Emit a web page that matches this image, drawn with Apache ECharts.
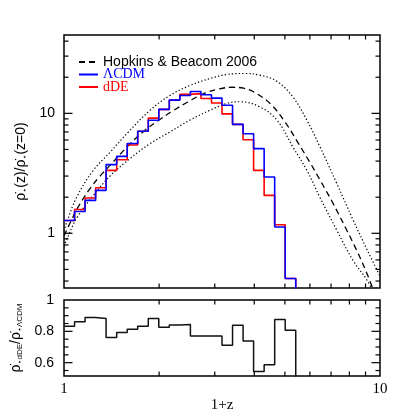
<!DOCTYPE html>
<html>
<head>
<meta charset="utf-8">
<script src="https://cdn.jsdelivr.net/npm/echarts@6/dist/echarts.min.js"></script>
<style>
html, body {margin: 0; padding: 0; background: #fff;}
#chart {width: 415px; height: 415px;}
</style>
</head>
<body>
<div id="chart"></div>
<script>
//  bin edges in 1+z
const binEdges = [1.000, 1.080, 1.166, 1.259, 1.359, 1.468, 1.585, 1.711, 1.848, 1.995, 2.154, 2.326,
    2.512, 2.712, 2.929, 3.162, 3.415, 3.687, 3.981, 4.299, 4.642, 5.012, 5.412];
//  normalised SFR per bin
const lcdmSfr = [1.28, 1.52, 1.88, 2.28, 3.74, 4.38, 5.6, 7.1, 8.76, 10.8, 12.9, 14.1,
    15.2, 14.3, 13.4, 11.7, 8.1, 6.77, 5.08, 2.95, 1.13, 0.42];
const ddeSfr = [1.28, 1.58, 1.97, 2.40, 3.35, 4.11, 5.45, 7.1, 9.12, 10.8, 12.9, 14.4,
    14.6, 13.3, 12.2, 9.9, 8.1, 6.03, 3.35, 2.07, 1.18, 0.42];
//  dDE / LCDM
const sfrRatio = [0.833, 0.861, 0.889, 0.882, 0.760, 0.792, 0.814, 0.833, 0.882, 0.826, 0.841, 0.844,
    0.771, 0.771, 0.771, 0.711, 0.839, 0.739, 0.544, 0.587, 0.876, 0.807];
//  Hopkins & Beacom 2006 fit
const hbX = [1.0, 1.05, 1.1, 1.2, 1.3, 1.4, 1.6, 1.8, 2.0, 2.2, 2.5, 2.8, 3.1, 3.4, 3.7, 4.0, 4.5,
    5.0, 5.5, 6.0, 6.5, 7.1, 7.85, 8.44, 9.07, 9.6];
const hbY = [0.95, 1.25, 1.6, 2.3, 3.0, 3.7, 5.4, 7.2, 8.8, 10.4, 12.7, 14.8, 16.0, 16.5, 16.2, 15.0, 12.0,
    8.5, 5.7, 3.9, 2.7, 1.78, 1.06, 0.72, 0.47, 0.32];
//  upper / lower envelope
const hbUpX = [1.0, 1.02, 1.097, 1.238, 1.398, 1.594, 1.871, 2.165, 2.505, 2.898, 3.28, 3.74, 4.17,
    4.72, 5.31, 5.87, 6.45, 7.30, 8.21, 9.10, 10.0];
const hbUpY = [1.04, 1.235, 2.0, 3.35, 4.73, 6.93, 10.6, 14.1, 17.1, 19.5, 21.1, 21.5, 20.8,
    18.5, 13.6, 8.77, 5.3, 2.6, 1.3, 0.73, 0.44];
const hbLowX = [1.0, 1.022, 1.099, 1.235, 1.398, 1.618, 1.872, 2.165, 2.505, 2.897, 3.27, 3.61, 4.17,
    4.72, 5.31, 5.87, 6.45, 7.30, 8.21, 9.10, 9.6];
const hbLowY = [0.78, 0.9, 1.35, 2.05, 3.0, 4.2, 5.6, 7.0, 8.8, 10.6, 12.1, 12.5, 11.3,
    8.76, 5.2, 3.35, 2.0, 1.06, 0.596, 0.406, 0.31];
//  ticks
const xMinorTicks = [2, 3, 4, 5, 6, 7, 8, 9];
const topYMajor = [1, 10];
const topYMinor = [0.4, 0.5, 0.6, 0.7, 0.8, 0.9, 2, 3, 4, 5, 6, 7, 8, 9, 20, 30, 40];
const topYLabels = [1, 10];
const botYMajor = [0.6, 0.8];
const botYMinor = [0.55, 0.65, 0.7, 0.75, 0.85, 0.9, 0.95];
const botYLabels = [0.6, 0.8, 1];

const sans = 'Liberation Sans, Arial, DejaVu Sans';
const serif = 'Liberation Serif, Times New Roman, DejaVu Serif';

//  histogram -> step points, dropped to the floor at the end
function histPoints(edges, vals, floor) {
    const pts = vals.map(function (v, i) { return [edges[i], v]; });
    pts.push([edges[vals.length], vals[vals.length - 1]]);
    pts.push([edges[vals.length], floor]);
    return pts;
}

function pairs(xs, ys) {
    return xs.map(function (x, i) { return [x, ys[i]]; });
}

function near(v, list) {
    return list.some(function (t) { return Math.abs(v - t) < 1e-6 * Math.max(1, t); });
}

//  ticks on both sides of a panel, pointing in
const tickSeries = function (gridIdx, dir, values, isMajor, ref) {
    return {
        type: 'custom',
        xAxisIndex: gridIdx,
        yAxisIndex: gridIdx,
        silent: true,
        z: 5,
        data: values.map(function (v) { return dir === 'x' ? [v, ref] : [ref, v]; }),
        renderItem: function (params, api) {
            const cs = params.coordSys;
            const p = api.coord([api.value(0), api.value(1)]);
            const len = isMajor ? 8.5 : 4.5;
            let lines;
            if (dir === 'x') {
                const b = cs.y + cs.height;
                lines = [[p[0], b, p[0], b - len], [p[0], cs.y, p[0], cs.y + len]];
            } else {
                const r = cs.x + cs.width;
                lines = [[cs.x, p[1], cs.x + len, p[1]], [r, p[1], r - len, p[1]]];
            }
            return {
                type: 'group',
                children: lines.map(function (l) {
                    return {
                        type: 'line',
                        shape: {x1: l[0], y1: l[1], x2: l[2], y2: l[3]},
                        style: {stroke: '#000', lineWidth: 1.2}
                    };
                })
            };
        }
    };
};

const nameRich = {
    m: {fontFamily: sans, fontSize: 14, color: '#000'},
    s: {fontFamily: sans, fontSize: 8, color: '#000', verticalAlign: 'bottom', padding: [6, 0, 0, 0]}
};

//  legend: line only, no marker
const noMarker = {color: 'transparent', borderColor: 'transparent', borderWidth: 0, opacity: 0};

const option = {
    animation: false,
    backgroundColor: '#fff',
    grid: [
        {left: 64, right: 35, top: 35, height: 253, show: true, borderColor: '#000', borderWidth: 1.5,
            backgroundColor: 'transparent', outerBoundsMode: 'none'},
        {left: 64, right: 35, top: 300, height: 76, show: true, borderColor: '#000', borderWidth: 1.5,
            backgroundColor: 'transparent', outerBoundsMode: 'none'}
    ],
    legend: {
        left: 73,
        top: 50,
        orient: 'vertical',
        itemGap: -1.5,
        itemWidth: 19,
        itemHeight: 12,
        selectedMode: false,
        itemStyle: noMarker,
        data: [
            {name: 'Hopkins & Beacom 2006', itemStyle: noMarker,
                textStyle: {color: '#000', fontFamily: sans, fontSize: 14}},
            {name: 'ΛCDM', itemStyle: noMarker,
                textStyle: {color: '#0000ff', fontFamily: serif, fontSize: 14}},
            {name: 'dDE', itemStyle: noMarker,
                textStyle: {color: '#ff0000', fontFamily: serif, fontSize: 14}}
        ]
    },
    xAxis: [
        {
            type: 'log', logBase: 10, gridIndex: 0, min: 1, max: 10,
            axisLine: {show: false}, axisTick: {show: false}, axisLabel: {show: false},
            splitLine: {show: false}
        },
        {
            type: 'log', logBase: 10, gridIndex: 1, min: 1, max: 10,
            axisLine: {show: false}, axisTick: {show: false}, splitLine: {show: false},
            axisLabel: {color: '#000', fontFamily: serif, fontSize: 15, margin: 6,
                showMinLabel: true, showMaxLabel: true},
            name: '1+z',
            nameLocation: 'middle',
            nameGap: 22,
            nameTextStyle: {color: '#000', fontFamily: serif, fontSize: 15}
        }
    ],
    yAxis: [
        {
            type: 'log', logBase: 10, gridIndex: 0, min: 0.35, max: 45,
            axisLine: {show: false}, axisTick: {show: false}, splitLine: {show: false},
            axisLabel: {
                color: '#000', fontFamily: sans, fontSize: 14, margin: 9,
                formatter: function (v) { return near(v, topYLabels) ? String(Math.round(v)) : ''; }
            },
            name: '{m|ρ̇}{s|⋆}{m|(z)/ρ̇}{s|⋆}{m|(z=0)}',
            nameLocation: 'middle',
            nameGap: 25,
            nameTextStyle: {rich: nameRich}
        },
        {
            type: 'value', gridIndex: 1, min: 0.515, max: 1,
            axisLine: {show: false}, axisTick: {show: false}, splitLine: {show: false},
            axisLabel: {
                color: '#000', fontFamily: sans, fontSize: 14, margin: 10,
                formatter: function (v) { return near(v, botYLabels) ? String(+v.toFixed(1)) : ''; }
            },
            name: '{m|ρ̇}{s|⋆dDE}{m|/ρ̇}{s|⋆ΛCDM}',
            nameLocation: 'middle',
            nameGap: 23,
            nameTextStyle: {rich: nameRich}
        }
    ],
    series: [
        {
            name: 'Hopkins & Beacom 2006', type: 'line', xAxisIndex: 0, yAxisIndex: 0,
            data: pairs(hbX, hbY), smooth: 0.4, symbol: 'none',
            lineStyle: {color: '#000', width: 1.3, type: [6, 4]}, itemStyle: {color: '#000'}
        },
        {
            name: 'HB06 upper', type: 'line', xAxisIndex: 0, yAxisIndex: 0,
            data: pairs(hbUpX, hbUpY), smooth: 0.4, symbol: 'none',
            lineStyle: {color: '#000', width: 1.2, type: [1.3, 2.2]}
        },
        {
            name: 'HB06 lower', type: 'line', xAxisIndex: 0, yAxisIndex: 0,
            data: pairs(hbLowX, hbLowY), smooth: 0.4, symbol: 'none',
            lineStyle: {color: '#000', width: 1.2, type: [1.3, 2.2]}
        },
        {
            name: 'dDE', type: 'line', xAxisIndex: 0, yAxisIndex: 0, step: 'end',
            data: histPoints(binEdges, ddeSfr, 0.1), symbol: 'none',
            lineStyle: {color: '#ff0000', width: 1.6}, itemStyle: {color: '#ff0000'}
        },
        {
            name: 'ΛCDM', type: 'line', xAxisIndex: 0, yAxisIndex: 0, step: 'end',
            data: histPoints(binEdges, lcdmSfr, 0.1), symbol: 'none',
            lineStyle: {color: '#0000ff', width: 1.6}, itemStyle: {color: '#0000ff'}
        },
        {
            name: 'ratio', type: 'line', xAxisIndex: 1, yAxisIndex: 1, step: 'end',
            data: histPoints(binEdges, sfrRatio, 0.3), symbol: 'none',
            lineStyle: {color: '#111', width: 1.5}
        },
        tickSeries(0, 'x', xMinorTicks, false, 1),
        tickSeries(0, 'y', topYMajor, true, 2),
        tickSeries(0, 'y', topYMinor, false, 2),
        tickSeries(1, 'x', xMinorTicks, false, 0.8),
        tickSeries(1, 'y', botYMajor, true, 2),
        tickSeries(1, 'y', botYMinor, false, 2)
    ]
};

const myChart = echarts.init(document.getElementById('chart'));
myChart.setOption(option);
</script>
</body>
</html>
